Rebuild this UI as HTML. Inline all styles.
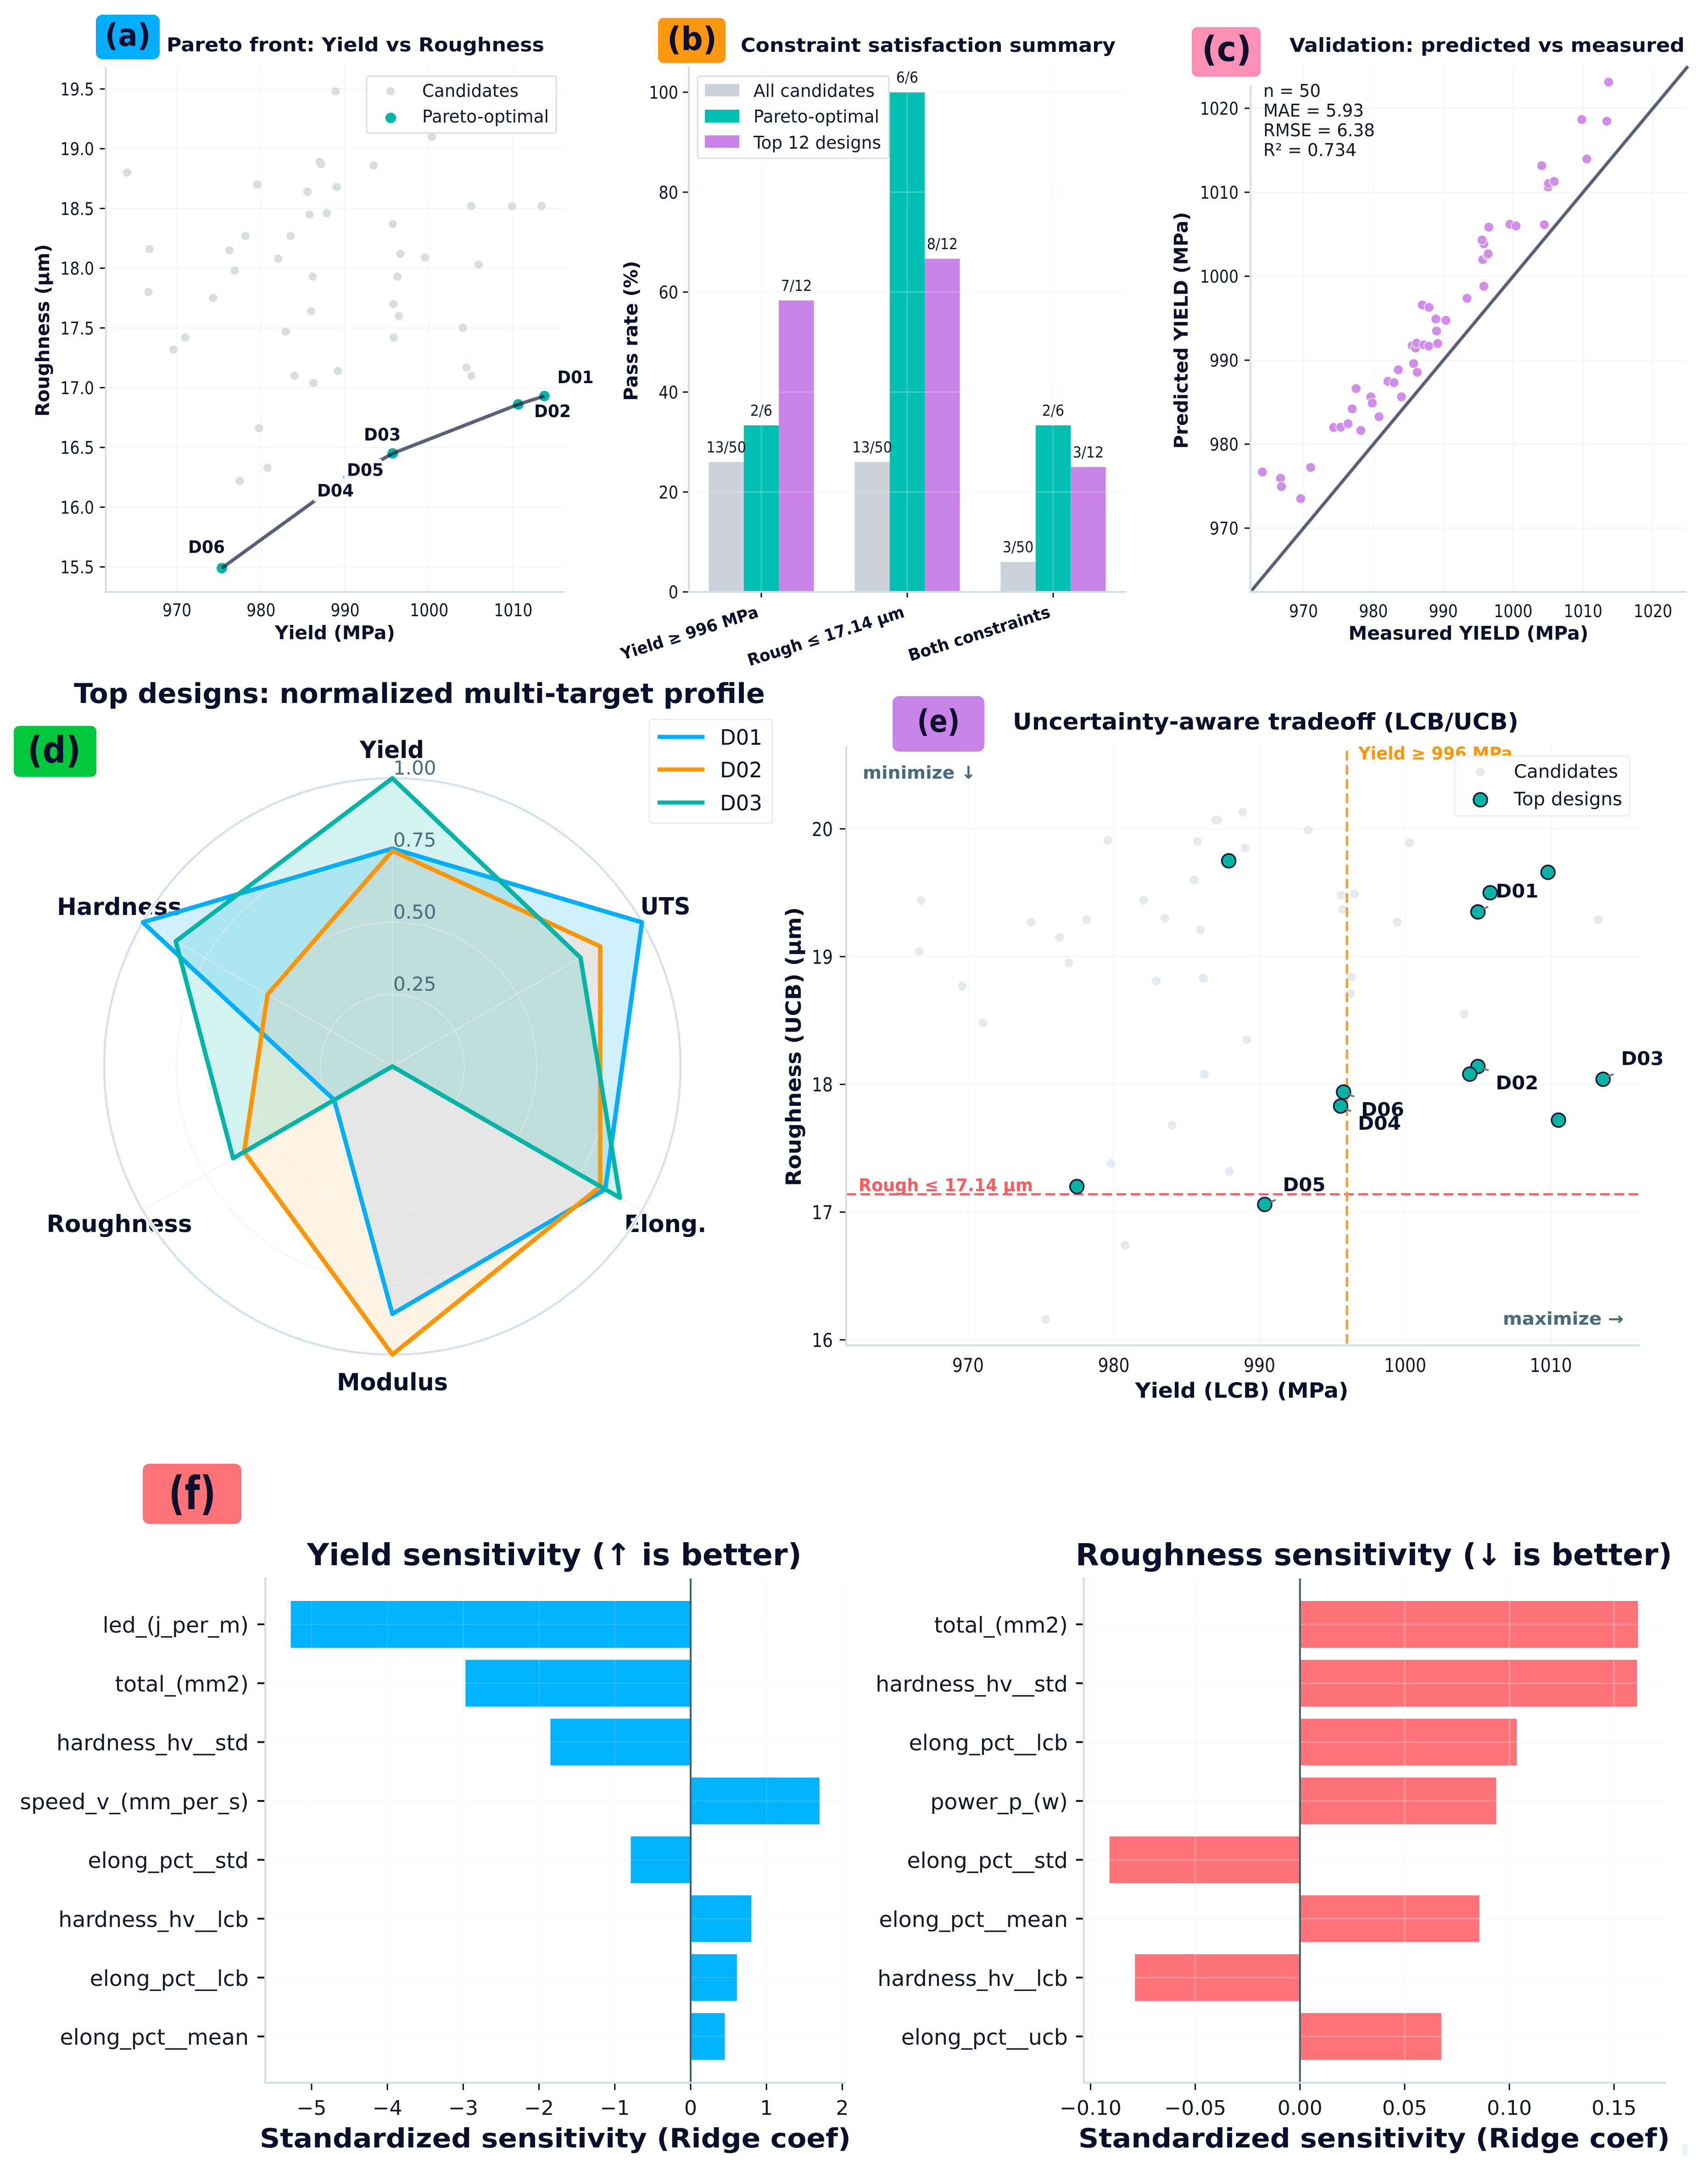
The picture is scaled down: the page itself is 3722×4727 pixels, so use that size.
<!DOCTYPE html>
<html lang="en">
<head>
<meta charset="utf-8">
<title>Multi-objective design dashboard</title>
<style>
html,body{margin:0;padding:0;background:#fff;width:3722px;height:4727px;overflow:hidden}
svg{display:block;font-family:"DejaVu Sans","Liberation Sans",sans-serif}
.b{font-weight:bold}
</style>
</head>
<body>
<svg id="fig" xmlns="http://www.w3.org/2000/svg" width="3722" height="4727" viewBox="0 0 3722 4727">
<defs><clipPath id="clip-d02"><polygon id="clip-d02-shape" points="0,0"/></clipPath></defs>
<rect width="3722" height="4727" fill="#fff"/>

<!-- PANEL A -->
<g>
  <g id="a-grid"></g><g id="a-marks"></g>
  <rect x="684" y="1042" width="96" height="51" fill="#fff" opacity=".92"/>
  <rect x="750" y="1001" width="82" height="50" fill="#fff" opacity=".92"/>
  <g font-weight="bold" font-size="37" fill="#0a0f2c" text-anchor="middle">
    <text x="1254" y="835" textLength="79" lengthAdjust="spacingAndGlyphs">D01</text>
    <text x="1204" y="909" textLength="80" lengthAdjust="spacingAndGlyphs">D02</text>
    <text x="833" y="960" textLength="80" lengthAdjust="spacingAndGlyphs">D03</text>
    <text x="796" y="1037" textLength="80" lengthAdjust="spacingAndGlyphs">D05</text>
    <text x="731" y="1082" textLength="80" lengthAdjust="spacingAndGlyphs">D04</text>
    <text x="450" y="1205" textLength="80" lengthAdjust="spacingAndGlyphs">D06</text>
  </g>
  <g id="a-axis"></g>
  <rect x="209" y="32" width="139" height="97" rx="14" fill="#00aeff"/>
  <text x="278.5" y="100" font-size="68" class="b" fill="#0a0f2c" text-anchor="middle" textLength="100" lengthAdjust="spacingAndGlyphs">(a)</text>
  <text x="363" y="112" font-size="42" class="b" fill="#0a0f2c" textLength="823" lengthAdjust="spacingAndGlyphs">Pareto front: Yield vs Roughness</text>
  <text x="730" y="1393" font-size="41" class="b" fill="#0a0f2c" text-anchor="middle" textLength="262" lengthAdjust="spacingAndGlyphs">Yield (MPa)</text>
  <text transform="translate(107,720) rotate(-90)" font-size="41" class="b" fill="#0a0f2c" text-anchor="middle" textLength="376" lengthAdjust="spacingAndGlyphs">Roughness (µm)</text>
  <g>
    <rect x="799" y="166" width="413" height="124" rx="5" fill="#fff" fill-opacity=".9" stroke="#d8dfe3" stroke-width="3"/>
    <circle cx="851" cy="199" r="9" fill="#d8dee0"/>
    <circle cx="851.5" cy="257" r="11.5" fill="#00b5a5"/>
    <text x="920" y="211" font-size="38" fill="#111827" textLength="210" lengthAdjust="spacingAndGlyphs">Candidates</text>
    <text x="920" y="267" font-size="38" fill="#111827" textLength="276" lengthAdjust="spacingAndGlyphs">Pareto-optimal</text>
  </g>
</g>

<!-- PANEL B -->
<g>
  <g id="b-marks"></g><g id="b-grid"></g><g id="b-axis"></g>
  <rect x="1434" y="39" width="147" height="98" rx="12" fill="#ff9810"/>
  <text x="1508" y="109" font-size="70" class="b" fill="#0a0f2c" text-anchor="middle" textLength="108" lengthAdjust="spacingAndGlyphs">(b)</text>
  <text x="1614" y="113" font-size="42" class="b" fill="#0a0f2c" textLength="817" lengthAdjust="spacingAndGlyphs">Constraint satisfaction summary</text>
  <text transform="translate(1389,721) rotate(-90)" font-size="41" class="b" fill="#0a0f2c" text-anchor="middle" textLength="305" lengthAdjust="spacingAndGlyphs">Pass rate (%)</text>
  <g>
    <rect x="1520" y="166" width="417" height="179" rx="5" fill="#fff" fill-opacity=".95" stroke="#d8dfe3" stroke-width="3"/>
    <rect x="1536" y="183" width="75" height="27" fill="#cbd2db"/>
    <rect x="1536" y="239" width="75" height="28" fill="#00bfb3"/>
    <rect x="1536" y="295" width="75" height="27" fill="#c882e8"/>
    <text x="1642" y="211" font-size="38" fill="#111827" textLength="264" lengthAdjust="spacingAndGlyphs">All candidates</text>
    <text x="1642" y="267" font-size="38" fill="#111827" textLength="274" lengthAdjust="spacingAndGlyphs">Pareto-optimal</text>
    <text x="1642" y="324" font-size="38" fill="#111827" textLength="278" lengthAdjust="spacingAndGlyphs">Top 12 designs</text>
  </g>
</g>

<!-- PANEL C -->
<g>
  <g id="c-grid"></g><g id="c-marks"></g><g id="c-axis"></g>
  <rect x="2597" y="59" width="150" height="108" rx="12" fill="#ff90b5"/>
  <text x="2673" y="133" font-size="76" class="b" fill="#0a0f2c" text-anchor="middle" textLength="108" lengthAdjust="spacingAndGlyphs">(c)</text>
  <text x="2810" y="113" font-size="42" class="b" fill="#0a0f2c" textLength="861" lengthAdjust="spacingAndGlyphs">Validation: predicted vs measured</text>
  <text x="3200" y="1394" font-size="41" class="b" fill="#0a0f2c" text-anchor="middle" textLength="523" lengthAdjust="spacingAndGlyphs">Measured YIELD (MPa)</text>
  <text transform="translate(2588,720) rotate(-90)" font-size="41" class="b" fill="#0a0f2c" text-anchor="middle" textLength="516" lengthAdjust="spacingAndGlyphs">Predicted YIELD (MPa)</text>
  <g font-size="38" fill="#111827">
    <text x="2753" y="211" textLength="125" lengthAdjust="spacingAndGlyphs">n = 50</text>
    <text x="2753" y="254" textLength="219" lengthAdjust="spacingAndGlyphs">MAE = 5.93</text>
    <text x="2753" y="297" textLength="243" lengthAdjust="spacingAndGlyphs">RMSE = 6.38</text>
    <text x="2753" y="340" textLength="203" lengthAdjust="spacingAndGlyphs">R² = 0.734</text>
  </g>
</g>

<!-- PANEL D -->
<g>
  <text x="161" y="1532" font-size="60" class="b" fill="#0a0f2c" textLength="1506" lengthAdjust="spacingAndGlyphs">Top designs: normalized multi-target profile</text>
  <rect x="30" y="1582" width="180" height="111" rx="12" fill="#00c83c"/>
  <text x="118" y="1662" font-size="80" class="b" fill="#0a0f2c" text-anchor="middle" textLength="116" lengthAdjust="spacingAndGlyphs">(d)</text>
  <g id="d-labels"></g><g id="d-fills"></g><g id="d-grid"></g><g id="d-lines"></g>
  <g>
    <rect x="1415" y="1568" width="268" height="226" rx="6" fill="#fff" fill-opacity=".9" stroke="#e3edf4" stroke-width="3"/>
    <line x1="1433" x2="1535" y1="1606" y2="1606" stroke="#00aeff" stroke-width="9"/>
    <line x1="1433" x2="1535" y1="1677" y2="1677" stroke="#ff9500" stroke-width="9"/>
    <line x1="1433" x2="1535" y1="1749" y2="1749" stroke="#00b5a5" stroke-width="9"/>
    <text x="1569" y="1623" font-size="46" fill="#0a0f2c" textLength="92" lengthAdjust="spacingAndGlyphs">D01</text>
    <text x="1569" y="1694" font-size="46" fill="#0a0f2c" textLength="92" lengthAdjust="spacingAndGlyphs">D02</text>
    <text x="1569" y="1766" font-size="46" fill="#0a0f2c" textLength="92" lengthAdjust="spacingAndGlyphs">D03</text>
  </g>
</g>

<!-- PANEL E -->
<g>
  <g id="e-grid"></g><g id="e-marks"></g>
  <g stroke="#5f7d8c" stroke-width="4">
    <line x1="3229" y1="1982" x2="3243" y2="1976"/>
    <line x1="3227" y1="2326" x2="3244" y2="2333"/>
    <line x1="3503" y1="2346" x2="3516" y2="2341"/>
    <line x1="2933" y1="2382" x2="2951" y2="2390"/>
    <line x1="2927" y1="2413" x2="2944" y2="2422"/>
    <line x1="2765" y1="2621" x2="2780" y2="2615"/>
  </g>
  <g font-size="41" class="b" fill="#0a0f2c" text-anchor="middle">
    <text x="3306" y="1956" textLength="93" lengthAdjust="spacingAndGlyphs">D01</text>
    <text x="3306" y="2374" textLength="93" lengthAdjust="spacingAndGlyphs">D02</text>
    <text x="3579" y="2321" textLength="93" lengthAdjust="spacingAndGlyphs">D03</text>
    <text x="3013" y="2432" textLength="94" lengthAdjust="spacingAndGlyphs">D06</text>
    <text x="3006" y="2462" textLength="94" lengthAdjust="spacingAndGlyphs">D04</text>
    <text x="2842" y="2596" textLength="93" lengthAdjust="spacingAndGlyphs">D05</text>
  </g>
  <text x="2960" y="1655" font-size="38" class="b" fill="#ff9500" textLength="336" lengthAdjust="spacingAndGlyphs">Yield ≥ 996 MPa</text>
  <text x="1871" y="2596" font-size="38" class="b" fill="#ff5a5f" textLength="380" lengthAdjust="spacingAndGlyphs">Rough ≤ 17.14 µm</text>
  <text x="1880" y="1697" font-size="38" class="b" fill="#456b7c" textLength="247" lengthAdjust="spacingAndGlyphs">minimize ↓</text>
  <text x="3275" y="2887" font-size="38" class="b" fill="#456b7c" textLength="263" lengthAdjust="spacingAndGlyphs">maximize →</text>
  <g id="e-axis"></g>
  <rect x="1945" y="1517" width="200" height="121" rx="14" fill="#c882e8"/>
  <text x="2045" y="1595" font-size="68" class="b" fill="#0a0f2c" text-anchor="middle" textLength="93" lengthAdjust="spacingAndGlyphs">(e)</text>
  <text x="2207" y="1590" font-size="50" class="b" fill="#0a0f2c" textLength="1102" lengthAdjust="spacingAndGlyphs">Uncertainty-aware tradeoff (LCB/UCB)</text>
  <text x="2706" y="3046" font-size="45" class="b" fill="#0a0f2c" text-anchor="middle" textLength="465" lengthAdjust="spacingAndGlyphs">Yield (LCB) (MPa)</text>
  <text transform="translate(1745,2281) rotate(-90)" font-size="45" class="b" fill="#0a0f2c" text-anchor="middle" textLength="608" lengthAdjust="spacingAndGlyphs">Roughness (UCB) (µm)</text>
  <g>
    <rect x="3170" y="1648" width="381" height="130" rx="5" fill="#fff" fill-opacity=".95" stroke="#e8eff3" stroke-width="3"/>
    <circle cx="3226" cy="1683" r="9.5" fill="#e4eaee"/>
    <circle cx="3226" cy="1743" r="15" fill="#00b5a5" stroke="#1a1a3a" stroke-width="3.5"/>
    <text x="3299" y="1695" font-size="40" fill="#111827" textLength="227" lengthAdjust="spacingAndGlyphs">Candidates</text>
    <text x="3299" y="1755" font-size="40" fill="#111827" textLength="236" lengthAdjust="spacingAndGlyphs">Top designs</text>
  </g>
</g>

<!-- PANEL F -->
<g>
  <rect x="311" y="3190" width="215" height="131" rx="14" fill="#ff7378"/>
  <text x="419" y="3289" font-size="100" class="b" fill="#0a0f2c" text-anchor="middle" textLength="103" lengthAdjust="spacingAndGlyphs">(f)</text>
  <text x="669" y="3411" font-size="66" class="b" fill="#0a0f2c" textLength="1078" lengthAdjust="spacingAndGlyphs">Yield sensitivity (↑ is better)</text>
  <text x="2344" y="3411" font-size="66" class="b" fill="#0a0f2c" textLength="1300" lengthAdjust="spacingAndGlyphs">Roughness sensitivity (↓ is better)</text>
  <g id="f-marks"></g><g id="f-grid"></g><g id="f-axis"></g>
  <text x="566" y="4680" font-size="58" class="b" fill="#0a0f2c" textLength="1288" lengthAdjust="spacingAndGlyphs">Standardized sensitivity (Ridge coef)</text>
  <text x="2350" y="4680" font-size="58" class="b" fill="#0a0f2c" textLength="1289" lengthAdjust="spacingAndGlyphs">Standardized sensitivity (Ridge coef)</text>
  <rect x="3666" y="4673" width="12" height="25" fill="#e8f6ff"/>
</g>
</svg>

<script>
/* ---------- chart data ---------- */
const candidateYieldA = [964.07,966.74,966.61,969.59,971.0,974.3,976.24,976.88,978.14,979.55,979.77,980.77,977.47,982.04,982.94,983.53,983.98,985.52,985.79,985.97,986.15,986.24,986.97,987.15,987.83,988.87,989.0,989.14,993.39,995.66,996.56,996.24,995.75,996.38,995.79,999.5,1000.32,1004.03,1004.43,1005.02,1005.02,1005.88,1009.86,1013.39];
const candidateRoughA = [18.80,18.16,17.80,17.32,17.42,17.75,18.15,17.98,18.27,18.70,16.66,16.33,16.22,18.08,17.47,18.27,17.10,18.64,18.45,17.64,17.93,17.04,18.89,18.87,18.46,19.48,18.68,17.14,18.86,18.37,18.12,17.93,17.70,17.60,17.42,18.09,19.10,17.50,17.17,17.10,18.52,18.03,18.52,18.52];
const paretoYield = [975.34,987.9,990.4,995.66,1010.59,1013.71];
const paretoRough = [15.49,16.13,16.24,16.45,16.86,16.93];
const xTicksA = [970,980,990,1000,1010];
const yTicksA = [15.5,16.0,16.5,17.0,17.5,18.0,18.5,19.0,19.5];

const categoriesB = ['Yield ≥ 996 MPa','Rough ≤ 17.14 µm','Both constraints'];
const passAll = [26,26,6];
const passPareto = [33.33,100,33.33];
const passTop = [58.33,66.67,25];
const passAllLabels = ['13/50','13/50','3/50'];
const passParetoLabels = ['2/6','6/6','2/6'];
const passTopLabels = ['7/12','8/12','3/12'];
const yTicksB = [0,20,40,60,80,100];

const measured = [964.11,966.72,966.83,969.59,971.02,974.30,975.32,976.35,978.19,976.96,977.52,979.62,979.83,980.80,982.08,982.95,983.56,984.02,985.76,986.27,985.56,986.02,986.17,987.2,987.91,989.19,989.04,988.94,990.37,986.99,987.96,993.39,995.79,995.64,996.3,996.41,995.79,995.54,996.51,999.53,1000.4,1004.44,1004.08,1005.0,1005.06,1005.87,1010.53,1009.82,1013.4,1013.65];
const predicted = [976.68,975.94,974.95,973.51,977.23,981.98,982.03,982.43,981.63,984.21,986.63,985.64,984.90,983.27,987.48,987.33,988.86,985.64,989.6,988.56,991.73,991.44,992.03,991.83,991.68,991.98,993.47,994.9,994.75,996.58,996.29,997.38,998.81,1001.98,1002.52,1002.67,1003.86,1004.31,1005.84,1006.19,1005.99,1006.14,1013.17,1010.64,1011.04,1011.29,1013.96,1018.66,1018.47,1023.12];
const xTicksC = [970,980,990,1000,1010,1020];
const yTicksC = [970,980,990,1000,1010,1020];

const radarAxes = ['Yield','UTS','Elong.','Modulus','Roughness','Hardness'];
const radarD01 = [0.756,1.0,0.853,0.859,0.233,1.0];
const radarD02 = [0.748,0.833,0.833,1.0,0.594,0.5];
const radarD03 = [1.0,0.754,0.912,0.0,0.638,0.868];
const radarTicks = [0.25,0.5,0.75,1.0];

const candidateYieldE = [966.78,966.66,969.6,971.03,974.33,976.28,976.92,978.15,979.58,979.82,980.78,975.33,982.05,982.92,983.52,984.0,985.51,985.75,985.94,986.14,986.22,986.98,987.14,987.93,988.85,989.0,989.13,993.34,995.61,995.69,996.52,996.32,996.24,999.46,1000.3,1004.04,1013.26];
const candidateRoughE = [19.44,19.04,18.77,18.48,19.27,19.15,18.95,19.29,19.91,17.38,16.74,16.16,19.44,18.81,19.30,17.68,19.60,19.90,19.21,18.83,18.08,20.07,20.07,17.32,20.13,19.85,18.35,19.99,19.48,19.37,19.49,18.84,18.71,19.27,19.89,18.55,19.29];
const topYieldE = [987.89,1005.83,1004.99,1009.8,1004.99,1004.43,1013.58,1010.52,995.77,995.57,977.47,990.36];
const topRoughE = [19.75,19.50,19.35,19.66,18.14,18.08,18.04,17.72,17.94,17.83,17.20,17.06];
const yieldThreshold = [996];
const roughThreshold = [17.14];
const xTicksE = [970,980,990,1000,1010];
const yTicksE = [16,17,18,19,20];

const yieldFeatures = ['led_(j_per_m)','total_(mm2)','hardness_hv__std','speed_v_(mm_per_s)','elong_pct__std','hardness_hv__lcb','elong_pct__lcb','elong_pct__mean'];
const yieldCoefs = [-5.275,-2.97,-1.85,1.70,-0.79,0.80,0.61,0.45];
const xTicksF1 = [-5,-4,-3,-2,-1,0,1,2];
const roughFeatures = ['total_(mm2)','hardness_hv__std','elong_pct__lcb','power_p_(w)','elong_pct__std','elong_pct__mean','hardness_hv__lcb','elong_pct__ucb'];
const roughCoefs = [0.1614,0.1609,0.1035,0.0937,-0.0909,0.0857,-0.0788,0.0675];
const xTicksF2 = [-0.10,-0.05,0.00,0.05,0.10,0.15];

/* ---------- helpers ---------- */
const NS = 'http://www.w3.org/2000/svg';
const INK = '#0a0f2c';
const SPINE = '#cfe0ea';
const GRID = '#f2f5f7';
const $ = id => document.getElementById(id);
function mk(tag, attrs, parent) {
  const e = document.createElementNS(NS, tag);
  for (const k in attrs) e.setAttribute(k, attrs[k]);
  parent.appendChild(e);
  return e;
}
function txt(parent, x, y, str, o) {
  const e = mk('text', {x: x, y: y, 'font-size': o.size, 'font-weight': o.weight || 'normal', 'text-anchor': o.anchor || 'middle', fill: o.fill || '#111827'}, parent);
  e.textContent = str;
  if (o.sx) {
    const L = e.getComputedTextLength();
    e.setAttribute('textLength', (L * o.sx).toFixed(1));
    e.setAttribute('lengthAdjust', 'spacingAndGlyphs');
  }
  return e;
}
function spines(g, left, top, right, bottom, w) {
  const l = mk('line', {x1: left, x2: left, y1: top, y2: bottom + w / 2, stroke: SPINE, 'stroke-width': w}, g);
  
  
  const b = mk('line', {x1: left, x2: right, y1: bottom, y2: bottom, stroke: SPINE, 'stroke-width': w}, g);
  
  
}
function drawX(gridG, axisG, ticks, fmt, fx, top, bottom, c) {
  ticks.forEach(v => {
    const px = fx(v);
    const gl = mk('line', {x1: px, x2: px, y1: top, y2: bottom, stroke: c.grid || GRID, 'stroke-width': c.gw || 2}, gridG);
    
    
    if (c.len) {
      const t = mk('line', {x1: px, x2: px, y1: bottom + 2, y2: bottom + 2 + c.len, stroke: '#111', 'stroke-width': 3}, axisG);
      
      
    }
    const lab = txt(axisG, px, c.base, fmt(v), {size: c.size, sx: c.sx});
    
    
  });
}
function drawY(gridG, axisG, ticks, fmt, fy, left, right, c) {
  ticks.forEach(v => {
    const py = fy(v);
    const gl = mk('line', {x1: left, x2: right, y1: py, y2: py, stroke: c.grid || GRID, 'stroke-width': c.gw || 2}, gridG);
    
    
    const t = mk('line', {x1: left - c.len - 2, x2: left - 2, y1: py, y2: py, stroke: '#111', 'stroke-width': 3}, axisG);
    
    
    const lab = txt(axisG, c.right, py + c.size * 0.37, fmt(v), {size: c.size, sx: c.sx, anchor: 'end'});
    
    
  });
}

/* ---------- panel a ---------- */
(function () {
  const fx = v => 385.6 + (v - 970) * 18.32;
  const fy = v => 1235.5 - (v - 15.5) * 260.4;
  drawX($('a-grid'), $('a-axis'), xTicksA, String, fx, 145, 1290, {size: 38, sx: .87, base: 1343});
  drawY($('a-grid'), $('a-axis'), yTicksA, v => v.toFixed(1), fy, 230.5, 1231, {size: 38, sx: .87, right: 205, len: 11});
  spines($('a-axis'), 230.5, 145, 1231, 1290, 4);
  candidateYieldA.forEach((v, i) => {
    const c = mk('circle', {cx: fx(v), cy: fy(candidateRoughA[i]), r: 9, fill: '#d8dee0'}, $('a-marks'));
    
    
  });
  paretoYield.forEach((v, i) => {
    const c = mk('circle', {cx: fx(v), cy: fy(paretoRough[i]), r: 11.5, fill: '#00b5a5'}, $('a-marks'));
    
    
  });
  const pts = paretoYield.map((v, i) => fx(v).toFixed(1) + ',' + fy(paretoRough[i]).toFixed(1)).join(' ');
  const line = mk('polyline', {points: pts, fill: 'none', stroke: '#0f193a', 'stroke-opacity': .69, 'stroke-width': 7.5}, $('a-marks'));
  
  
})();

/* ---------- panel b ---------- */
(function () {
  const fy = v => 1290 - v * 10.89;
  const cx = i => 1659 + i * 318;
  const bw = 76.4;
  const seriesColors = ['#cbd2db', '#00bfb3', '#c882e8'];
  [passAll, passPareto, passTop].forEach((vals, s) => {
    vals.forEach((v, i) => {
      const x = cx(i) + (s - 1.5) * bw;
      const r = mk('rect', {x: x, y: fy(v), width: bw, height: 1290 - fy(v), fill: seriesColors[s]}, $('b-marks'));
      
      
    });
  });
  [passAllLabels, passParetoLabels, passTopLabels].forEach((labs, s) => {
    const vals = [passAll, passPareto, passTop][s];
    labs.forEach((t, i) => {
      const l = txt($('b-marks'), cx(i) + (s - 1) * bw, fy(vals[i]) - 21, t, {size: 33, sx: .91});
      
      
    });
  });
  drawX($('b-grid'), $('b-axis'), [0, 1, 2], () => '', cx, 145, 1290, {size: 1, base: -10, grid: 'rgba(228,234,240,.25)', gw: 3, len: 10});
  drawY($('b-grid'), $('b-axis'), yTicksB, String, fy, 1501, 2454, {size: 38, sx: .88, right: 1478, len: 11, grid: 'rgba(228,234,240,.3)', gw: 3});
  spines($('b-axis'), 1501, 145, 2454, 1290, 4);
  categoriesB.forEach((c, i) => {
    const g = mk('text', {transform: 'translate(' + (cx(i) - 4) + ',1344) rotate(-17.6)', 'font-size': 36, 'font-weight': 'bold', 'text-anchor': 'end', fill: INK}, $('b-axis'));
    g.textContent = c;
    
    
    g.setAttribute('textLength', [312, 356, 322][i]);
    g.setAttribute('lengthAdjust', 'spacingAndGlyphs');
  });
})();

/* ---------- panel c ---------- */
(function () {
  const fx = v => 2840.6 + (v - 970) * 15.23;
  const fy = v => 1151 - (v - 970) * 18.3;
  drawX($('c-grid'), $('c-axis'), xTicksC, String, fx, 145, 1290, {size: 38, sx: .87, base: 1345});
  drawY($('c-grid'), $('c-axis'), yTicksC, String, fy, 2725, 3675, {size: 38, sx: .87, right: 2699, len: 11});
  spines($('c-axis'), 2725, 185, 3675, 1290, 4);
  const low = 962.4, high = 1025;
  const d = mk('line', {x1: fx(low), y1: fy(low), x2: fx(high), y2: fy(high), stroke: '#0f193a', 'stroke-opacity': .69, 'stroke-width': 7}, $('c-marks'));
  
  
  measured.forEach((v, i) => {
    const c = mk('circle', {cx: fx(v), cy: fy(predicted[i]), r: 10.5, fill: '#d28dea', stroke: '#fff', 'stroke-width': 1.5}, $('c-marks'));
    
    
  });
})();

/* ---------- panel d ---------- */
(function () {
  const CX = 855, CY = 2324, R = 628;
  const ang = i => i * Math.PI / 3;
  const vx = (v, i) => CX + Math.sin(ang(i)) * v * R;
  const vy = (v, i) => CY - Math.cos(ang(i)) * v * R;
  const labelSpots = [[854, 1652, 140], [1450, 1993, 109], [1450, 2685, 179], [855, 3030, 242], [260, 2685, 317], [260, 1994, 272]];
  radarAxes.forEach((a, i) => {
    const t = mk('text', {x: labelSpots[i][0], y: labelSpots[i][1], 'font-size': 52, 'font-weight': 'bold', 'text-anchor': 'middle', fill: INK, textLength: labelSpots[i][2], lengthAdjust: 'spacingAndGlyphs'}, $('d-labels'));
    t.textContent = a;
    
    
  });
  const halo = mk('circle', {cx: CX, cy: CY, r: R, fill: 'none', stroke: '#fff', 'stroke-width': 10}, $('d-labels'));
  
  
  radarAxes.forEach((a, i) => {
    const s = mk('line', {x1: CX, y1: CY, x2: vx(1, i), y2: vy(1, i), stroke: 'rgba(232,238,244,.55)', 'stroke-width': 2.5}, $('d-grid'));
    
    
  });
  radarTicks.forEach(v => {
    const c = mk('circle', {cx: CX, cy: CY, r: v * R, fill: 'none', stroke: v === 1 ? '#d3e2f0' : 'rgba(232,238,244,.55)', 'stroke-width': v === 1 ? 4.5 : 2.5}, $('d-grid'));
    
    
  });
  const toPts = vals => vals.map((v, i) => vx(v, i).toFixed(1) + ',' + vy(v, i).toFixed(1)).join(' ');
  const fD01 = mk('polygon', {points: toPts(radarD01), fill: '#00aeff', 'fill-opacity': .18}, $('d-fills'));
  
  
  const fD02 = mk('polygon', {points: toPts(radarD02), fill: '#ff9500', 'fill-opacity': .11}, $('d-fills'));
  
  
  $('clip-d02-shape').setAttribute('points', toPts(radarD02));
  const overlap = mk('polygon', {points: toPts(radarD01), fill: '#e6e6e6', 'clip-path': 'url(#clip-d02)'}, $('d-fills'));
  
  
  const fD03 = mk('polygon', {points: toPts(radarD03), fill: '#00b5a5', 'fill-opacity': .17}, $('d-fills'));
  
  
  const lD01 = mk('polygon', {points: toPts(radarD01), fill: 'none', stroke: '#00aeff', 'stroke-width': 9.5, 'stroke-linejoin': 'round'}, $('d-lines'));
  
  
  const lD02 = mk('polygon', {points: toPts(radarD02), fill: 'none', stroke: '#ff9500', 'stroke-width': 9.5, 'stroke-linejoin': 'round'}, $('d-lines'));
  
  
  const lD03 = mk('polygon', {points: toPts(radarD03), fill: 'none', stroke: '#00b5a5', 'stroke-width': 9.5, 'stroke-linejoin': 'round'}, $('d-lines'));
  
  
  radarTicks.forEach(v => {
    const t = txt($('d-lines'), 857, CY - v * R - 8, v.toFixed(2), {size: 42, anchor: 'start', fill: '#4a6a7a'});
    
    
  });
})();

/* ---------- panel e ---------- */
(function () {
  const fx = v => 2109.5 + (v - 970) * 31.755;
  const fy = v => 2920 - (v - 16) * 278.4;
  drawX($('e-grid'), $('e-axis'), xTicksE, String, fx, 1626, 2932, {size: 42, sx: .86, base: 2990});
  drawY($('e-grid'), $('e-axis'), yTicksE, String, fy, 1844, 3573, {size: 42, sx: .86, right: 1815, len: 12});
  spines($('e-axis'), 1844, 1626, 3573, 2932, 4);
  candidateYieldE.forEach((v, i) => {
    const c = mk('circle', {cx: fx(v), cy: fy(candidateRoughE[i]), r: 9.5, fill: '#e4eaee'}, $('e-marks'));
    
    
  });
  const h = mk('line', {x1: 1844, x2: 3573, y1: fy(roughThreshold[0]), y2: fy(roughThreshold[0]), stroke: '#ff5a5f', 'stroke-width': 4.5, 'stroke-dasharray': '21 10'}, $('e-marks'));
  
  
  const w = mk('line', {x1: fx(yieldThreshold[0]), x2: fx(yieldThreshold[0]), y1: 1626, y2: 2932, stroke: '#ff9a1f', 'stroke-width': 5, 'stroke-dasharray': '21 10', 'stroke-dashoffset': 20.7}, $('e-marks'));
  
  
  topYieldE.forEach((v, i) => {
    const c = mk('circle', {cx: fx(v), cy: fy(topRoughE[i]), r: 15, fill: '#00b5a5', stroke: '#1a1a3a', 'stroke-width': 3.5}, $('e-marks'));
    
    
  });
})();

/* ---------- panel f ---------- */
(function () {
  const rowY = i => 3540 + i * 128.3;
  const barH = 102;
  const minus = s => s.replace('-', '−');
  function sensitivity(features, coefs, ticks, fmt, fx, left, right, color, labelRight, gridColor) {
    coefs.forEach((v, i) => {
      const r = mk('rect', {x: Math.min(fx(0), fx(v)), y: rowY(i) - barH / 2, width: Math.abs(fx(v) - fx(0)), height: barH, fill: color}, $('f-marks'));
      
      
    });
    drawX($('f-grid'), $('f-axis'), ticks, fmt, fx, 3438, 4539, {size: 44, base: 4609, grid: gridColor, gw: 3, len: 14});
    features.forEach((f, i) => {
      const gl = mk('line', {x1: left, x2: right, y1: rowY(i), y2: rowY(i), stroke: gridColor, 'stroke-width': 3}, $('f-grid'));
      
      
      const t = mk('line', {x1: left - 17, x2: left - 2, y1: rowY(i), y2: rowY(i), stroke: '#111', 'stroke-width': 4}, $('f-axis'));
      
      
      const l = txt($('f-axis'), labelRight, rowY(i) + 18, f, {size: 47, anchor: 'end', sx: 1.008});
      
      
    });
    const z = mk('line', {x1: fx(0), x2: fx(0), y1: 3440, y2: 4539, stroke: '#3d6070', 'stroke-width': 4}, $('f-axis'));
    
    
    spines($('f-axis'), left, 3438, right, 4539, 4);
  }
  sensitivity(yieldFeatures, yieldCoefs, xTicksF1, v => minus(String(v)), v => 1505 + 165.2 * v, 578, 1844, '#00b3ff', 542, 'rgba(232,238,244,.16)');
  sensitivity(roughFeatures, roughCoefs, xTicksF2, v => minus(v.toFixed(2)), v => 2832.8 + 4563 * v, 2361.7, 3630, '#ff7378', 2327, 'rgba(235,240,245,.3)');
})();
</script>
</body>
</html>
